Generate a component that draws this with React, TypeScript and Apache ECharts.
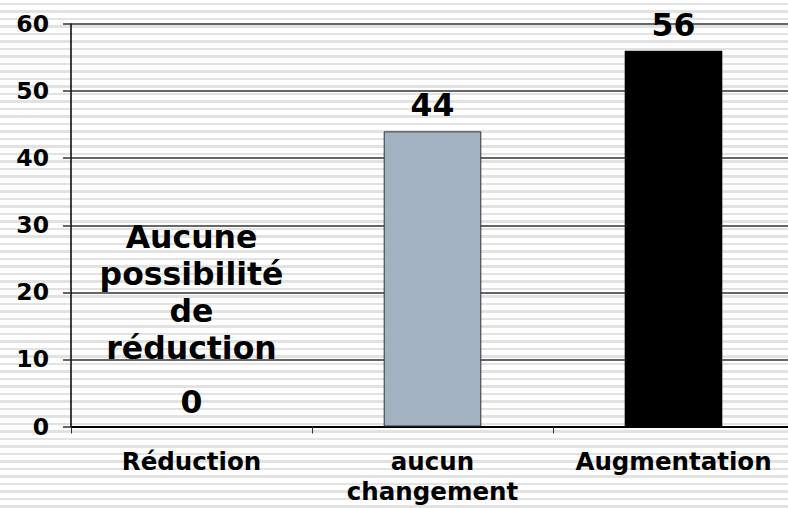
import React, { useEffect, useRef } from "react";
import * as echarts from "echarts";

const categories = ["Réduction", "aucun\nchangement", "Augmentation"];
const values = [0, 44, 56];
const barColors = ["#a3b2c2", "#a3b2c2", "#000000"];
const noteLines = ["Aucune", "possibilité", "de", "réduction"];
const yTicks = { min: 0, max: 60, interval: 10 };

export default function App() {
  const ref = useRef<HTMLDivElement>(null);
  useEffect(() => {
    document.body.style.margin = "0";
    const chart = echarts.init(ref.current!, null, { renderer: "svg" });
    const font = "'DejaVu Sans', Verdana, sans-serif";
    chart.setOption({
      animation: false,
      backgroundColor: "transparent",
      grid: { left: 71, top: 24, width: 723, height: 402.5, outerBoundsMode: "none", containLabel: false },
      xAxis: {
        type: "category",
        data: categories,
        axisLine: { lineStyle: { color: "#000", width: 2 } },
        axisTick: { show: true, length: 7, lineStyle: { color: "#333", width: 1 } },
        axisLabel: {
          color: "#000",
          fontFamily: font,
          fontWeight: "bold",
          fontSize: 24.5,
          lineHeight: 30,
          margin: 20,
          interval: 0,
        },
      },
      yAxis: {
        type: "value",
        min: yTicks.min,
        max: yTicks.max,
        interval: yTicks.interval,
        axisLine: { show: true, lineStyle: { color: "#000", width: 1.5 } },
        axisTick: { show: true, length: 8, lineStyle: { color: "#333", width: 1.5 } },
        axisLabel: {
          color: "#000",
          fontFamily: font,
          fontWeight: "bold",
          fontSize: 23.5,
          margin: 22,
        },
        splitLine: { show: true, lineStyle: { color: "#333", width: 1.5 } },
      },
      series: [
        {
          type: "bar",
          barWidth: "40.5%",
          data: values.map((v, i) => ({
            value: v,
            itemStyle: {
              color: barColors[i],
              borderColor: i === 1 ? "#333" : barColors[i],
              borderWidth: i === 1 ? 1 : 0,
            },
            label:
              i === 0
                ? {
                    show: true,
                    position: "top",
                    distance: 23,
                    formatter:
                      noteLines.map((l) => "{n|" + l + "}").join("\n") + "\n{v|{c}}",
                    rich: {
                      n: {
                        fontFamily: font,
                        fontWeight: "bold",
                        fontSize: 31.5,
                        lineHeight: 37,
                        color: "#000",
                      },
                      v: {
                        fontFamily: font,
                        fontWeight: "bold",
                        fontSize: 31.5,
                        lineHeight: 37,
                        color: "#000",
                        padding: [33, 0, 0, 0],
                      },
                    },
                  }
                : undefined,
          })),
          label: {
            show: true,
            position: "top",
            distance: 10,
            color: "#000",
            fontFamily: font,
            fontWeight: "bold",
            fontSize: 31.5,
          },
        },
      ],
    });
    return () => chart.dispose();
  }, []);
  return (
    <div
      ref={ref}
      style={{
        width: 788,
        height: 508,
        background:
          "repeating-linear-gradient(to bottom, #ffffff 0px, #ffffff 3px, #e2e2e2 3px, #e2e2e2 5.5px, #ffffff 5.5px, #ffffff 7.5px)",
      }}
    />
  );
}
